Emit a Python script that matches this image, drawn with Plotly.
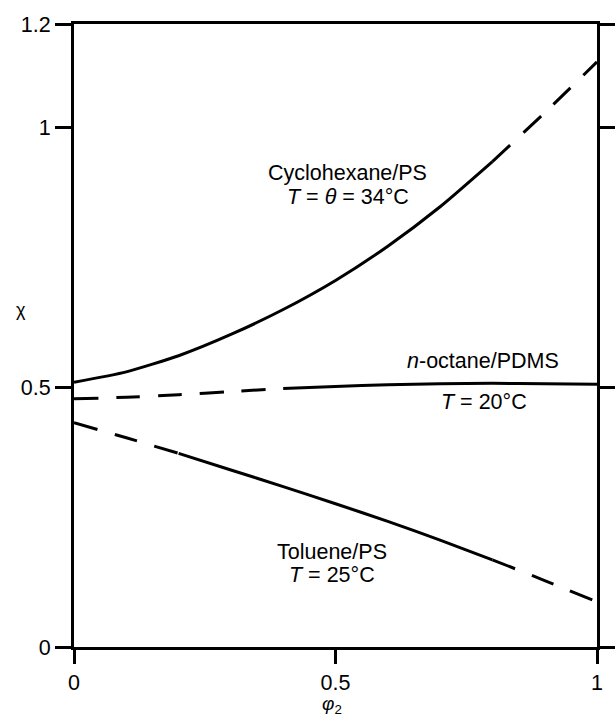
import plotly.graph_objects as go

# ---- data ----
phi2 = [0.0, 0.1, 0.2, 0.3, 0.4, 0.5, 0.6, 0.7, 0.8, 0.9, 1.0]
chi_cyclohexane_ps = [0.51, 0.530, 0.561, 0.602, 0.650, 0.706, 0.772, 0.848, 0.935, 1.029, 1.127]
chi_octane_pdms = [0.478, 0.481, 0.486, 0.492, 0.498, 0.502, 0.505, 0.507, 0.508, 0.507, 0.506]
chi_toluene_ps = [0.432, 0.403, 0.373, 0.341, 0.309, 0.276, 0.242, 0.206, 0.168, 0.128, 0.087]

# segments: (start x, end x, style)
seg_cyclohexane = [(0.0, 0.8, "solid"), (0.8, 1.0, "dash")]
seg_octane = [(0.0, 0.4, "dash"), (0.4, 1.0, "solid")]
seg_toluene = [(0.0, 0.2, "dash"), (0.2, 0.8, "solid"), (0.8, 1.0, "dash")]

y_tickvals = [0, 0.5, 1, 1.2]
y_ticktext = ["0", "0.5", "1", "1.2"]
x_tickvals = [0, 0.5, 1]
x_ticktext = ["0", "0.5", "1"]

FONT = "Liberation Sans, Arial, sans-serif"
INK = "#000000"
DASH = "24px,18px"
FS = 21.5

fig = go.Figure()


def add_series(xs, ys, segs, name):
    for (a, b, style) in segs:
        px = [x for x in xs if a - 1e-9 <= x <= b + 1e-9]
        py = [y for x, y in zip(xs, ys) if a - 1e-9 <= x <= b + 1e-9]
        fig.add_trace(go.Scatter(
            x=px, y=py, mode="lines", name=name, showlegend=False,
            line=dict(color=INK, width=3, shape="spline", smoothing=0.6,
                      dash=("solid" if style == "solid" else DASH)),
            hoverinfo="skip",
        ))


add_series(phi2, chi_cyclohexane_ps, seg_cyclohexane, "Cyclohexane/PS")
add_series(phi2, chi_octane_pdms, seg_octane, "n-octane/PDMS")
add_series(phi2, chi_toluene_ps, seg_toluene, "Toluene/PS")

labels = [
    (0.523, 0.913, "Cyclohexane/PS"),
    (0.523, 0.867, "<i>T</i> = <i>θ</i> = 34°C"),
    (0.782, 0.550, "<i>n</i>-octane/PDMS"),
    (0.783, 0.471, "<i>T</i> = 20°C"),
    (0.494, 0.183, "Toluene/PS"),
    (0.494, 0.138, "<i>T</i> = 25°C"),
]
for x, y, t in labels:
    fig.add_annotation(x=x, y=y, xref="x", yref="y", text=t, showarrow=False,
                       xanchor="center", yanchor="middle",
                       font=dict(family=FONT, size=FS, color=INK))

# axis titles placed as annotations
fig.add_annotation(x=-0.101, y=0.541, xref="paper", yref="paper", text="χ",
                   showarrow=False, xanchor="center", yanchor="middle",
                   font=dict(family=FONT, size=18, color=INK))
fig.add_annotation(x=0.493, y=-0.093, xref="paper", yref="paper",
                   text="<i>φ</i><sub>2</sub>",
                   showarrow=False, xanchor="center", yanchor="middle",
                   font=dict(family=FONT, size=19, color=INK))

fig.update_xaxes(range=[0, 1], tickvals=x_tickvals, ticktext=x_ticktext,
                 showgrid=False, zeroline=False, showline=True, linewidth=3,
                 linecolor=INK, mirror=True, ticks="outside", ticklen=14,
                 tickwidth=3, tickcolor=INK, automargin=False,
                 tickfont=dict(family=FONT, size=FS, color=INK))
fig.update_yaxes(range=[0, 1.2], tickvals=y_tickvals, ticktext=y_ticktext,
                 showgrid=False, zeroline=False, showline=True, linewidth=3,
                 linecolor=INK, mirror="ticks", ticks="outside", ticklen=16,
                 tickwidth=3, tickcolor=INK, automargin=False,
                 tickfont=dict(family=FONT, size=FS, color=INK))

fig.update_layout(
    width=615, height=721,
    margin=dict(l=74, r=18, t=24, b=74),
    paper_bgcolor="white", plot_bgcolor="white",
    showlegend=False,
)

fig.write_html("out.html")
